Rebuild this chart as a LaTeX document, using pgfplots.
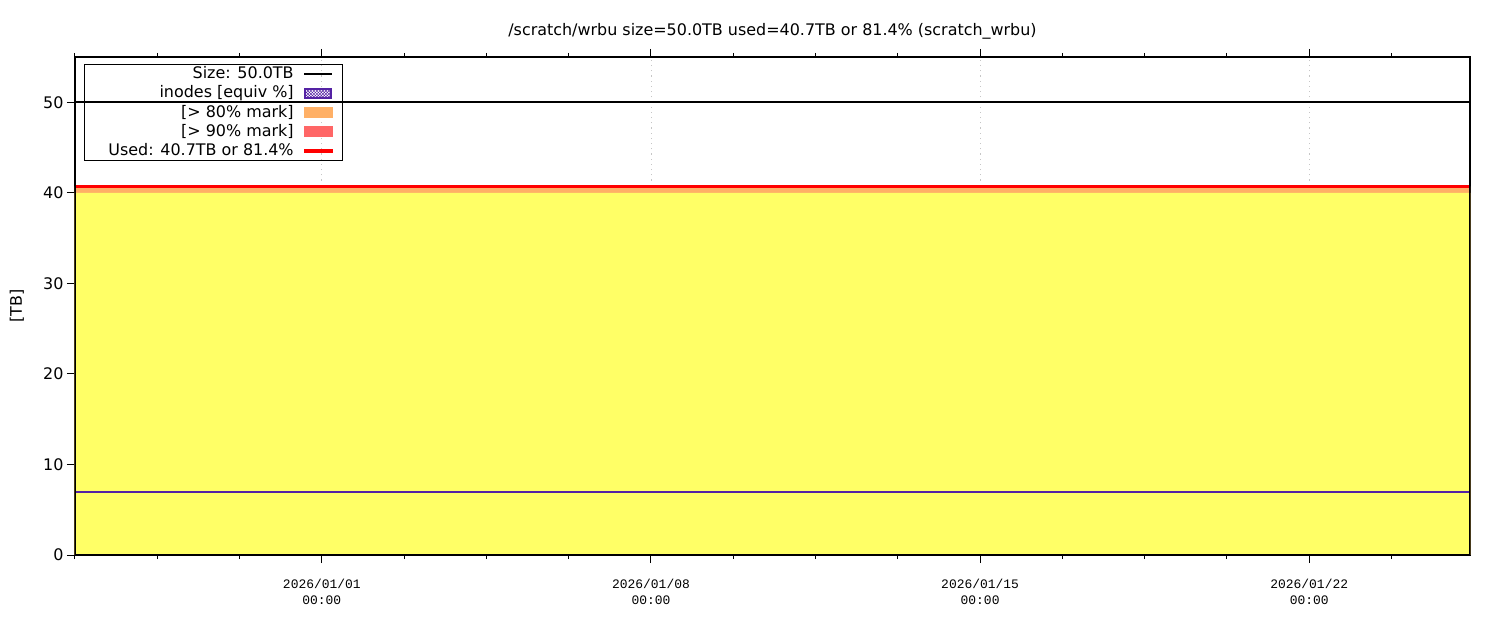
\documentclass[border=0pt]{standalone}
\usepackage{pgfplots}
\pgfplotsset{compat=1.18}
\usepackage{pgfplotstable}
\usetikzlibrary{patterns}
\usepackage{fontspec}
\setmainfont{DejaVu Sans}
\newfontfamily\monofont{Liberation Mono}
\definecolor{fillyellow}{RGB}{255,255,102}
\definecolor{fillorange}{RGB}{255,176,102}
\definecolor{fillred}{RGB}{255,102,102}
\definecolor{inodepurple}{RGB}{84,34,164}
\definecolor{usedred}{RGB}{255,0,0}
\pgfplotstableread{
x      used  mark  inodes size
-5.25  40.7  40.0  6.95   50.0
-3.50  40.7  40.0  6.95   50.0
-1.75  40.7  40.0  6.95   50.0
 0.00  40.7  40.0  6.95   50.0
 1.75  40.7  40.0  6.95   50.0
 3.50  40.7  40.0  6.95   50.0
 5.25  40.7  40.0  6.95   50.0
 7.00  40.7  40.0  6.95   50.0
 8.75  40.7  40.0  6.95   50.0
10.50  40.7  40.0  6.95   50.0
12.25  40.7  40.0  6.95   50.0
14.00  40.7  40.0  6.95   50.0
15.75  40.7  40.0  6.95   50.0
17.50  40.7  40.0  6.95   50.0
19.25  40.7  40.0  6.95   50.0
21.00  40.7  40.0  6.95   50.0
22.75  40.7  40.0  6.95   50.0
24.42  40.7  40.0  6.95   50.0
}\datatable
\begin{document}
\begin{tikzpicture}
\begin{axis}[
  scale only axis,
  width=1395bp, height=498bp,
  xmin=-5.25, xmax=24.42,
  ymin=0, ymax=55,
  font=\fontsize{16}{19}\selectfont,
  /pgf/number format/assume math mode=true,
  tick align=outside,
  xtick pos=both, ytick pos=left,
  xtick={0,7,14,21},
  xticklabels={{2026/01/01\\00:00},{2026/01/08\\00:00},{2026/01/15\\00:00},{2026/01/22\\00:00}},
  xticklabel style={font=\monofont\fontsize{13}{16}\selectfont, align=center, yshift=-13bp},
  minor xtick={-5.25,-3.5,-1.75,1.75,3.5,5.25,8.75,10.5,12.25,15.75,17.5,19.25,22.75},
  ytick={0,10,20,30,40,50},
  yticklabel style={font=\fontsize{16}{19}\selectfont},
  major tick length=8bp, minor tick length=4bp,
  tick style={line width=1bp, black},
  xmajorgrids,
  major grid style={gray!45, line width=0.8bp, dash pattern=on 1.2bp off 4bp},
  axis line style={line width=1.2bp},
  ylabel={[TB]},
  ylabel style={at={(axis description cs:-0.0416,0.5)}, anchor=center, font=\fontsize{16}{19}\selectfont},
  title={/scratch/wrbu size=50.0TB used=40.7TB or 81.4\% (scratch\_wrbu)},
  title style={at={(0.5,1.040)}, anchor=center, font=\fontsize{16}{19}\selectfont},
  legend plot pos=right,
  legend cell align=right,
  legend style={at={(0.00645,0.9859)}, anchor=north west, fill=none, draw=black, line width=0.8bp,
    inner xsep=0bp, inner ysep=0bp, row sep=0bp, column sep=0bp,
    font=\fontsize{16}{19}\selectfont,
    nodes={inner xsep=5bp, inner ysep=1.5bp, text height=12.7bp, text depth=3.5bp}},
]
% filled areas
\addplot[fill=fillorange, draw=none, forget plot] table[x=x, y=mark]{\datatable} \closedcycle;
\addplot[fill=fillorange, draw=none, forget plot] table[x=x, y=used]{\datatable} \closedcycle;
\addplot[fill=fillyellow, draw=none, forget plot] table[x=x, y=mark]{\datatable} \closedcycle;
% lines
\addplot[black, line width=2bp, forget plot] table[x=x, y=size]{\datatable};
\addplot[inodepurple, line width=2.8bp, forget plot] table[x=x, y=inodes]{\datatable};
\addplot[usedred, line width=2.6bp, forget plot] table[x=x, y=used]{\datatable};
% legend
\addlegendimage{legend image code/.code={\path (-5bp,0bp) (38bp,0bp); \draw[black, line width=2bp] (0bp,0bp) -- (28bp,0bp);}}
\addlegendentry{Size: 50.0TB}
\addlegendimage{legend image code/.code={\path (-5bp,0bp) (38bp,0bp); \draw[inodepurple, line width=2bp, pattern=crosshatch, pattern color=inodepurple] (1bp,-4.5bp) rectangle (27bp,4.5bp);}}
\addlegendentry{inodes [equiv \%]}
\addlegendimage{legend image code/.code={\path (-5bp,0bp) (38bp,0bp); \fill[fillorange] (0bp,-5bp) rectangle (28bp,5bp);}}
\addlegendentry{[> 80\% mark]}
\addlegendimage{legend image code/.code={\path (-5bp,0bp) (38bp,0bp); \fill[fillred] (0bp,-5bp) rectangle (28bp,5bp);}}
\addlegendentry{[> 90\% mark]}
\addlegendimage{legend image code/.code={\path (-5bp,0bp) (38bp,0bp); \fill[usedred] (0bp,-1.2bp) rectangle (28bp,1.2bp);}}
\addlegendentry{\hspace{19bp}Used: 40.7TB or 81.4\%}
\draw[line width=1.2bp, black] (rel axis cs:0,0) rectangle (rel axis cs:1,1);
\end{axis}
\pgfresetboundingbox
\useasboundingbox (-75bp,-65bp) rectangle (1425bp,555bp);
\end{tikzpicture}
\end{document}
